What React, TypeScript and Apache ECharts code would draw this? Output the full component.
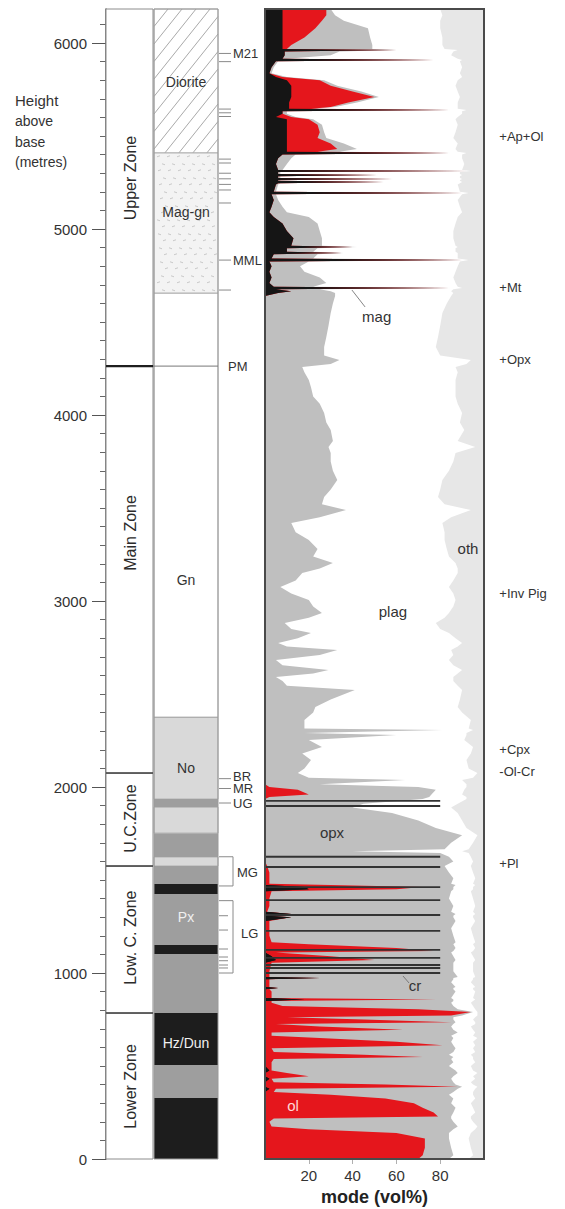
import React, { useEffect, useRef } from "react";
import * as echarts from "echarts";

const FONT = "'Liberation Sans', Arial, Helvetica, sans-serif";
const TOP = 6183;

// ---------- axes ----------
const heightTicks = [0, 1000, 2000, 3000, 4000, 5000, 6000];
const modeTicks = [20, 40, 60, 80];

// ---------- stratigraphic zones ----------
const zoneNames = ["Lower Zone", "Low. C. Zone", "U.C.Zone", "Main Zone", "Upper Zone"];
const zoneBase = [0, 785, 1575, 2075, 4263];
const zoneTop = [785, 1575, 2075, 4263, TOP];
const zoneLabelAt = [390, 1190, 1830, 3366, 5274];

// ---------- lithology column ----------
const lithBase = [0, 328, 505, 785, 1102, 1150, 1425, 1478, 1575, 1624, 1752, 1892, 1935, 2376, 4656, 5410];
const lithTop = [328, 505, 785, 1102, 1150, 1425, 1478, 1575, 1624, 1752, 1892, 1935, 2376, 4656, 5410, TOP];
const lithKind = ["dark", "grey", "dark", "grey", "dark", "grey", "dark", "grey", "pale", "grey", "pale", "grey", "pale", "white", "stipple", "hatch"];
const lithNames = ["Hz/Dun", "Px", "No", "Gn", "Mag-gn", "Diorite"];
const lithNameAt = [624, 1301, 2102, 3113, 5091, 5790];

// ---------- marker horizons ----------
const markTicks = [5944, 5900, 5645, 5625, 5605, 5376, 5355, 5300, 5270, 5240, 5210, 5140, 4833, 4672, 2045, 1992, 1914];
const unitNames = ["M21", "MML", "PM", "BR", "MR", "UG"];
const unitAt = [5944, 4833, 4260, 2058, 1990, 1914];
const groupNames = ["MG", "LG"];
const groupBase = [1468, 1000];
const groupTop = [1625, 1389];
const groupNameAt = [1540, 1210];
const lgTicks = [1308, 1231, 1129, 1086, 1066, 1043, 1027];

// ---------- modal data (vol%), height in metres above base ----------
const heights = [
  0, 20, 60, 110, 140, 160, 175, 200, 218, 228,
  250, 275, 300, 325, 345, 360, 378, 388, 400, 412,
  432, 445, 462, 476, 500, 520, 538, 548, 560, 575,
  595, 612, 630, 650, 662, 680, 695, 712, 726, 735,
  750, 762, 772, 790, 805, 822, 840, 850, 858, 866,
  900, 913, 919, 925, 950, 967, 973, 979, 1010, 1055,
  1070, 1090, 1110, 1118, 1135, 1155, 1165, 1200, 1240, 1280,
  1300, 1308, 1317, 1330, 1360, 1400, 1440, 1450, 1462, 1473,
  1480, 1510, 1540, 1575, 1600, 1625, 1645, 1655, 1665, 1700,
  1740, 1780, 1820, 1860, 1890, 1910, 1935, 1946, 1960, 1985,
  2000, 2015, 2038, 2050, 2075, 2100, 2145, 2180, 2215, 2253,
  2280, 2290, 2306, 2314, 2360, 2400, 2430, 2470, 2522, 2545,
  2570, 2591, 2610, 2629, 2655, 2683, 2710, 2737, 2755, 2774,
  2800, 2828, 2850, 2882, 2910, 2935, 2970, 3005, 3040, 3075,
  3110, 3151, 3175, 3204, 3240, 3280, 3328, 3370, 3419, 3450,
  3489, 3520, 3559, 3600, 3651, 3700, 3750, 3796, 3828, 3860,
  3919, 3960, 4011, 4060, 4100, 4150, 4188, 4230, 4258, 4275,
  4296, 4320, 4366, 4420, 4480, 4548, 4600, 4640,
  4656, 4665, 4676, 4683, 4689, 4710, 4740, 4770, 4800, 4826,
  4833, 4841, 4864, 4871, 4878, 4896, 4903, 4910, 4950, 4990,
  5030, 5065, 5090, 5120, 5156, 5187, 5194, 5201, 5240, 5246,
  5253, 5259, 5263, 5269, 5275, 5284, 5290, 5296, 5306, 5312,
  5318, 5350, 5380, 5401, 5409, 5416, 5430, 5460, 5490, 5520,
  5560, 5590, 5602, 5620, 5633, 5640, 5647, 5656, 5680, 5710,
  5740, 5770, 5800, 5817, 5838, 5870, 5902, 5909, 5916, 5935,
  5955, 5962, 5968, 5990, 6030, 6080, 6120, 6150, 6183,
];
const chromite = [
  0, 0, 0, 0, 0, 0, 0, 0, 0, 0,
  0, 0, 0, 0, 0, 0, 2, 0, 0, 0,
  2, 0, 0, 2, 0, 0, 0, 0, 0, 0,
  0, 0, 0, 0, 0, 0, 0, 0, 0, 0,
  0, 0, 0, 0, 0, 0, 0, 0, 18, 0,
  0, 0, 6, 0, 0, 0, 25, 0, 0, 0,
  5, 3, 0, 0, 0, 0, 0, 0, 0, 0,
  12, 0, 12, 0, 0, 0, 0, 20, 18, 0,
  0, 0, 0, 0, 0, 0, 0, 0, 0, 0,
  0, 0, 0, 0, 0, 0, 0, 0, 0, 0,
  0, 0, 0, 0, 0, 0, 0, 0, 0, 0,
  0, 0, 0, 0, 0, 0, 0, 0, 0, 0,
  0, 0, 0, 0, 0, 0, 0, 0, 0, 0,
  0, 0, 0, 0, 0, 0, 0, 0, 0, 0,
  0, 0, 0, 0, 0, 0, 0, 0, 0, 0,
  0, 0, 0, 0, 0, 0, 0, 0, 0, 0,
  0, 0, 0, 0, 0, 0, 0, 0, 0, 0,
  0, 0, 0, 0, 0, 0, 0, 0,
  0, 0, 0, 0, 0, 0, 0, 0, 0, 0,
  0, 0, 0, 0, 0, 0, 0, 0, 0, 0,
  0, 0, 0, 0, 0, 0, 0, 0, 0, 0,
  0, 0, 0, 0, 0, 0, 0, 0, 0, 0,
  0, 0, 0, 0, 0, 0, 0, 0, 0, 0,
  0, 0, 0, 0, 0, 0, 0, 0, 0, 0,
  0, 0, 0, 0, 0, 0, 0, 0, 0, 0,
  0, 0, 0, 0, 0, 0, 0, 0, 0,
];
const magnetite = [
  0, 0, 0, 0, 0, 0, 0, 0, 0, 0,
  0, 0, 0, 0, 0, 0, 0, 0, 0, 0,
  0, 0, 0, 0, 0, 0, 0, 0, 0, 0,
  0, 0, 0, 0, 0, 0, 0, 0, 0, 0,
  0, 0, 0, 0, 0, 0, 0, 0, 0, 0,
  0, 0, 0, 0, 0, 0, 0, 0, 0, 0,
  0, 0, 0, 0, 0, 0, 0, 0, 0, 0,
  0, 0, 0, 0, 0, 0, 0, 0, 0, 0,
  0, 0, 0, 0, 0, 0, 0, 0, 0, 0,
  0, 0, 0, 0, 0, 0, 0, 0, 0, 0,
  0, 0, 0, 0, 0, 0, 0, 0, 0, 0,
  0, 0, 0, 0, 0, 0, 0, 0, 0, 0,
  0, 0, 0, 0, 0, 0, 0, 0, 0, 0,
  0, 0, 0, 0, 0, 0, 0, 0, 0, 0,
  0, 0, 0, 0, 0, 0, 0, 0, 0, 0,
  0, 0, 0, 0, 0, 0, 0, 0, 0, 0,
  0, 0, 0, 0, 0, 0, 0, 0, 0, 0,
  0, 0, 0, 0, 0, 0, 0, 0,
  6, 12, 5, 84, 4, 2, 3, 2, 3, 2,
  90, 3, 4, 35, 10, 10, 40, 12, 13, 10,
  8, 4, 2, 3, 4, 3, 90, 4, 5, 6,
  54, 6, 6, 58, 6, 6, 51, 6, 6, 92,
  6, 5, 6, 8, 84, 10, 10, 10, 10, 10,
  10, 10, 5, 8, 8, 84, 11, 11, 11, 12,
  12, 12, 10, 5, 2, 3, 5, 77, 8, 9,
  9, 60, 8, 8, 8, 8, 8, 8, 8,
];
const olivine = [
  70, 72, 73, 73, 60, 20, 3, 2, 4, 79,
  77, 72, 68, 55, 30, 4, 3, 88, 55, 4,
  1, 20, 10, 1, 3, 3, 4, 72, 45, 4,
  3, 81, 60, 25, 3, 3, 63, 25, 5, 85,
  45, 10, 85, 94, 70, 8, 3, 3, 60, 3,
  3, 2, 0, 2, 2, 2, 0, 2, 2, 3,
  45, 27, 5, 77, 60, 20, 3, 2, 2, 2,
  0, 1, 0, 1, 2, 2, 3, 40, 54, 30,
  2, 2, 2, 1, 0, 0, 0, 0, 0, 0,
  0, 0, 0, 0, 0, 0, 0, 2, 20, 15,
  2, 0, 0, 0, 0, 0, 0, 0, 0, 0,
  0, 0, 0, 0, 0, 0, 0, 0, 0, 0,
  0, 0, 0, 0, 0, 0, 0, 0, 0, 0,
  0, 0, 0, 0, 0, 0, 0, 0, 0, 0,
  0, 0, 0, 0, 0, 0, 0, 0, 0, 0,
  0, 0, 0, 0, 0, 0, 0, 0, 0, 0,
  0, 0, 0, 0, 0, 0, 0, 0, 0, 0,
  0, 0, 0, 0, 0, 0, 0, 0,
  0, 0, 0, 0, 0, 0, 0, 0, 0, 0,
  0, 0, 0, 0, 0, 0, 0, 0, 0, 0,
  0, 0, 0, 0, 0, 0, 0, 0, 0, 0,
  0, 0, 0, 0, 0, 0, 0, 0, 0, 0,
  0, 0, 0, 0, 0, 14, 23, 20, 14, 15,
  14, 10, 7, 0, 0, 0, 10, 19, 27, 38,
  28, 18, 15, 3, 0, 0, 0, 0, 0, 0,
  0, 0, 2, 4, 10, 15, 18, 20, 20,
];
const pyroxene = [
  14, 14, 12, 11, 24, 66, 85, 84, 81, 6,
  9, 15, 17, 31, 54, 82, 83, 2, 32, 82,
  82, 66, 78, 84, 81, 83, 81, 14, 39, 82,
  84, 5, 25, 61, 82, 85, 23, 60, 81, 2,
  41, 76, 5, 1, 18, 78, 82, 83, 8, 82,
  84, 84, 80, 85, 83, 84, 61, 86, 84, 83,
  37, 56, 80, 9, 27, 66, 84, 84, 83, 85,
  74, 85, 75, 84, 84, 82, 82, 26, 14, 57,
  83, 84, 82, 81, 86, 84, 80, 40, 82, 85,
  90, 78, 70, 58, 40, 45, 72, 73, 56, 63,
  68, 25, 64, 20, 15, 18, 21, 17, 26, 20,
  60, 18, 81, 18, 18, 22, 23, 30, 41, 10,
  8, 5, 22, 29, 8, 5, 25, 33, 10, 6,
  15, 21, 12, 9, 20, 26, 22, 20, 12, 7,
  14, 17, 25, 31, 22, 24, 20, 14, 12, 25,
  37, 26, 27, 30, 33, 31, 30, 30, 29, 31,
  30, 28, 27, 25, 22, 21, 20, 18, 17, 30,
  34, 27, 27, 28, 29, 30, 31, 32,
  26, 18, 20, 1, 18, 26, 22, 16, 13, 18,
  1, 19, 20, 1, 12, 14, 2, 14, 13, 15,
  16, 16, 8, 5, 2, 2, 0, 1, 1, 1,
  1, 1, 1, 1, 1, 1, 1, 1, 1, 0,
  2, 5, 6, 6, 1, 10, 9, 6, 4, 2,
  2, 2, 2, 2, 2, 1, 2, 2, 4, 2,
  4, 3, 2, 2, 1, 1, 1, 0, 2, 21,
  25, 0, 39, 37, 30, 24, 10, 4, 2,
];
const plagioclase = [
  9, 9, 9, 9, 10, 10, 9, 9, 9, 9,
  10, 8, 9, 10, 11, 9, 8, 7, 8, 8,
  11, 9, 9, 8, 10, 10, 10, 9, 10, 10,
  8, 10, 10, 11, 10, 8, 9, 9, 10, 9,
  9, 10, 7, 2, 8, 9, 9, 9, 10, 10,
  9, 9, 9, 9, 9, 9, 9, 8, 9, 9,
  9, 9, 9, 9, 9, 9, 9, 9, 9, 9,
  9, 9, 9, 10, 10, 11, 9, 9, 9, 9,
  10, 10, 11, 12, 9, 10, 13, 50, 11, 10,
  7, 14, 20, 30, 45, 43, 20, 17, 14, 13,
  22, 67, 26, 75, 82, 75, 71, 77, 69, 71,
  32, 74, 14, 75, 76, 68, 65, 59, 49, 78,
  78, 81, 66, 61, 78, 79, 61, 52, 78, 84,
  72, 63, 68, 69, 62, 58, 64, 67, 74, 77,
  72, 71, 63, 56, 62, 59, 62, 68, 69, 60,
  57, 56, 52, 50, 48, 53, 56, 57, 67, 57,
  61, 61, 63, 63, 65, 66, 67, 70, 70, 62,
  60, 53, 51, 51, 51, 51, 52, 53,
  54, 55, 61, 5, 66, 59, 61, 69, 72, 69,
  2, 66, 64, 52, 65, 63, 46, 61, 60, 61,
  63, 68, 80, 81, 82, 85, 3, 84, 82, 82,
  35, 82, 82, 31, 82, 82, 38, 82, 82, 2,
  82, 81, 78, 76, 7, 54, 45, 52, 58, 60,
  62, 65, 74, 80, 80, 7, 65, 56, 46, 37,
  44, 54, 61, 80, 86, 86, 83, 13, 78, 55,
  52, 28, 33, 32, 33, 33, 44, 49, 50,
];
const others = [
  7, 5, 6, 7, 6, 4, 3, 5, 6, 6,
  4, 5, 6, 4, 5, 5, 4, 3, 5, 6,
  4, 5, 3, 5, 6, 4, 5, 5, 6, 4,
  5, 4, 5, 3, 5, 4, 5, 6, 4, 4,
  5, 4, 3, 3, 4, 5, 6, 5, 4, 5,
  4, 5, 5, 4, 6, 5, 5, 4, 5, 5,
  4, 5, 6, 5, 4, 5, 4, 5, 6, 4,
  5, 5, 4, 5, 4, 5, 6, 5, 5, 4,
  5, 4, 5, 6, 5, 6, 7, 10, 7, 5,
  3, 8, 10, 12, 15, 12, 8, 8, 10, 9,
  8, 8, 10, 5, 3, 7, 8, 6, 5, 9,
  8, 8, 5, 7, 6, 10, 12, 11, 10, 12,
  14, 14, 12, 10, 14, 16, 14, 15, 12, 10,
  13, 16, 20, 22, 18, 16, 14, 13, 14, 16,
  14, 12, 12, 13, 16, 17, 18, 18, 19, 15,
  6, 18, 21, 20, 19, 16, 14, 13, 4, 12,
  9, 11, 10, 12, 13, 13, 13, 12, 13, 8,
  6, 20, 22, 21, 20, 19, 17, 15,
  14, 15, 14, 10, 12, 13, 14, 13, 12, 11,
  7, 12, 12, 12, 13, 13, 12, 13, 14, 14,
  13, 12, 10, 11, 12, 10, 7, 11, 12, 11,
  10, 11, 11, 10, 11, 11, 10, 11, 11, 6,
  10, 9, 10, 10, 8, 12, 13, 12, 14, 13,
  12, 13, 12, 10, 10, 8, 12, 12, 12, 11,
  12, 13, 12, 10, 11, 10, 11, 10, 12, 15,
  14, 12, 18, 19, 19, 20, 20, 19, 20,
];

// chromitite seams drawn as lines
const seamHeights = [1000, 1027, 1043, 1081, 1124, 1226, 1312, 1392, 1462, 1570, 1625, 1898, 1926];
const seamExtent = [80, 80, 80, 80, 80, 80, 80, 80, 80, 80, 80, 80, 80];

// in-plot labels
const phaseNames = ["mag", "plag", "oth", "opx", "cr", "ol"];
const phaseX = [51, 58.4, 92.7, 30.6, 68.5, 12.8];
const phaseAt = [4532, 2941, 3285, 1753, 935, 290];
const leaderFromX = [39.7, 63];
const leaderFromH = [4672, 984];
const leaderToX = [45.7, 65.8];
const leaderToH = [4581, 946];

// cumulus arrivals (right side)
const arrivalNames = ["+Ap+Ol", "+Mt", "+Opx", "+Inv Pig", "+Cpx", "-Ol-Cr", "+Pl"];
const arrivalAt = [5495, 4683, 4301, 3043, 2199, 2081, 1591];

const layers = [chromite, magnetite, olivine, pyroxene, plagioclase, others];
const layerColors = ["#151515", "#151515", "#e5161c", "#bfbfbf", "#ffffff", "#e7e7e7"];
const lithColors: Record<string, string> = {
  dark: "#1d1d1d", grey: "#9e9e9e", pale: "#d9d9d9", white: "#ffffff", stipple: "#f3f3f3", hatch: "#ffffff",
};

export default function App() {
  const ref = useRef<HTMLDivElement>(null);

  useEffect(() => {
    if (!ref.current) return;
    const chart = echarts.init(ref.current, null, { renderer: "svg" });

    const cumulative = layers.map((_, k) =>
      heights.map((_, i) => {
        let s = 0;
        for (let j = 0; j <= k; j++) s += layers[j][i];
        return s;
      })
    );

    const minorTicks: number[] = [];
    for (let v = 100; v <= 6100; v += 100) if (v % 1000 !== 0) minorTicks.push(v);

    const leftSeries = (renderItem: any, n: number): any => ({
      type: "custom", xAxisIndex: 0, yAxisIndex: 0, clip: false, silent: true,
      data: Array.from({ length: n }, (_, i) => [0, i]),
      renderItem,
    });
    const rightSeries = (renderItem: any, n: number): any => ({
      type: "custom", xAxisIndex: 1, yAxisIndex: 2, clip: false, silent: true,
      data: Array.from({ length: n }, (_, i) => [0, i]),
      renderItem,
    });

    // zones
    const zoneRender = (p: any, api: any) => {
      const i = p.dataIndex;
      const [x0, yb] = api.coord([0, zoneBase[i]]);
      const [x1, yt] = api.coord([47, zoneTop[i]]);
      const [, yl] = api.coord([0, zoneLabelAt[i]]);
      return {
        type: "group",
        children: [
          { type: "rect", shape: { x: x0, y: yt, width: x1 - x0, height: yb - yt }, style: { fill: "#fff", stroke: "#8c8c8c", lineWidth: 1 } },
          {
            type: "text", x: (x0 + x1) / 2 + 1, y: yl, rotation: Math.PI / 2,
            style: { text: zoneNames[i], fontSize: 16, fontFamily: FONT, fill: "#2b2b2b", align: "center", verticalAlign: "middle" },
          },
        ],
      };
    };
    const zoneLineRender = (p: any, api: any) => {
      const i = p.dataIndex + 1;
      const [x0, y] = api.coord([0, zoneBase[i]]);
      const [x1] = api.coord([47, zoneBase[i]]);
      const isPM = i === 4;
      const children: any[] = [
        { type: "line", shape: { x1: x0, y1: y, x2: x1, y2: y }, style: { stroke: isPM ? "#1e1e1e" : "#444", lineWidth: isPM ? 2.2 : 1.5 } },
      ];
      if (isPM) {
        const [x2] = api.coord([112, zoneBase[i]]);
        children.push({ type: "line", shape: { x1: x1, y1: y, x2: x2, y2: y }, style: { stroke: "#777", lineWidth: 1 } });
      }
      return { type: "group", children };
    };

    // lithology
    const hatch = (x0: number, x1: number, yTop: number, yBot: number) => {
      const out: any[] = [];
      const H = yBot - yTop;
      const dx = H / 1.25;
      for (let c = x0 - dx; c < x1; c += 14) {
        const t0 = Math.max(0, (x0 - c) / dx);
        const t1 = Math.min(1, (x1 - c) / dx);
        if (t1 <= t0) continue;
        out.push({
          type: "line",
          shape: { x1: c + t0 * dx, y1: yBot - t0 * H, x2: c + t1 * dx, y2: yBot - t1 * H },
          style: { stroke: "#a9a9a9", lineWidth: 1 },
        });
      }
      return out;
    };
    const stipple = (x0: number, x1: number, yTop: number, yBot: number) => {
      const out: any[] = [];
      let row = 0;
      for (let y = yTop + 4; y < yBot - 2; y += 7) {
        for (let x = x0 + 3 + ((row * 5) % 9); x < x1 - 3; x += 10) {
          out.push({ type: "line", shape: { x1: x, y1: y, x2: x + 3, y2: y + (row % 2 ? 1 : -1) }, style: { stroke: "#c9c9c9", lineWidth: 1 } });
        }
        row++;
      }
      return out;
    };
    const lithRender = (p: any, api: any) => {
      const i = p.dataIndex;
      const [x0, yb] = api.coord([48, lithBase[i]]);
      const [x1, yt] = api.coord([112, lithTop[i]]);
      const kind = lithKind[i];
      const children: any[] = [
        { type: "rect", shape: { x: x0, y: yt, width: x1 - x0, height: yb - yt }, style: { fill: lithColors[kind], stroke: kind === "dark" || kind === "grey" ? null : "#a0a0a0", lineWidth: 0.8 } },
      ];
      if (kind === "hatch") children.push(...hatch(x0, x1, yt, yb));
      if (kind === "stipple") children.push(...stipple(x0, x1, yt, yb));
      return { type: "group", children };
    };
    const lithOutline = (_p: any, api: any) => {
      const [x0, yb] = api.coord([48, 0]);
      const [x1, yt] = api.coord([112, TOP]);
      return { type: "rect", shape: { x: x0, y: yt, width: x1 - x0, height: yb - yt }, style: { fill: "none", stroke: "#9a9a9a", lineWidth: 1 } };
    };
    const lithLabelRender = (p: any, api: any) => {
      const i = p.dataIndex;
      const [x, y] = api.coord([80, lithNameAt[i]]);
      const light = lithNames[i] === "Hz/Dun" || lithNames[i] === "Px";
      return {
        type: "text", x, y,
        style: { text: lithNames[i], fontSize: 14, fontFamily: FONT, fill: light ? "#f0f0f0" : "#333", align: "center", verticalAlign: "middle" },
      };
    };

    // marker horizons
    const markTickRender = (p: any, api: any) => {
      const [x0, y] = api.coord([112, markTicks[p.dataIndex]]);
      const [x1] = api.coord([125, markTicks[p.dataIndex]]);
      return { type: "line", shape: { x1: x0 + 1, y1: y, x2: x1, y2: y }, style: { stroke: "#8a8a8a", lineWidth: 1 } };
    };
    const lgTickRender = (p: any, api: any) => {
      const [x0, y] = api.coord([112, lgTicks[p.dataIndex]]);
      const [x1] = api.coord([122, lgTicks[p.dataIndex]]);
      return { type: "line", shape: { x1: x0 + 1, y1: y, x2: x1, y2: y }, style: { stroke: "#8a8a8a", lineWidth: 1 } };
    };
    const unitRender = (p: any, api: any) => {
      const i = p.dataIndex;
      const [x, y] = api.coord([unitNames[i] === "PM" ? 122 : 127, unitAt[i]]);
      return { type: "text", x, y, style: { text: unitNames[i], fontSize: 13, fontFamily: FONT, fill: "#333", align: "left", verticalAlign: "middle" } };
    };
    const groupRender = (p: any, api: any) => {
      const i = p.dataIndex;
      const [x0, yb] = api.coord([112, groupBase[i]]);
      const [x1, yt] = api.coord([127, groupTop[i]]);
      const [, yl] = api.coord([0, groupNameAt[i]]);
      const st = { stroke: "#8a8a8a", lineWidth: 1 };
      return {
        type: "group",
        children: [
          { type: "line", shape: { x1: x0 + 1, y1: yt, x2: x1, y2: yt }, style: st },
          { type: "line", shape: { x1: x0 + 1, y1: yb, x2: x1, y2: yb }, style: st },
          { type: "line", shape: { x1: x1, y1: yt, x2: x1, y2: yb }, style: st },
          { type: "text", x: x1 + (i === 0 ? 4 : 8), y: yl, style: { text: groupNames[i], fontSize: 13, fontFamily: FONT, fill: "#333", align: "left", verticalAlign: "middle" } },
        ],
      };
    };

    // modal layers (drawn widest first, each from 0 to its cumulative boundary)
    const layerSeries: any[] = [];
    for (let k = layers.length - 1; k >= 0; k--) {
      const cum = cumulative[k];
      const color = layerColors[k];
      layerSeries.push(
        rightSeries((_p: any, api: any) => {
          const pts: number[][] = [api.coord([0, heights[0]])];
          for (let i = 0; i < heights.length; i++) pts.push(api.coord([cum[i], heights[i]]));
          pts.push(api.coord([0, heights[heights.length - 1]]));
          return { type: "polygon", shape: { points: pts }, style: { fill: color } };
        }, 1)
      );
    }
    const seamRender = (p: any, api: any) => {
      const i = p.dataIndex;
      const a = api.coord([0, seamHeights[i]]);
      const b = api.coord([seamExtent[i], seamHeights[i]]);
      return { type: "line", shape: { x1: a[0], y1: a[1], x2: b[0], y2: b[1] }, style: { stroke: "#333", lineWidth: 1.8 } };
    };
    const phaseRender = (p: any, api: any) => {
      const i = p.dataIndex;
      const [x, y] = api.coord([phaseX[i], phaseAt[i]]);
      return {
        type: "text", x, y,
        style: { text: phaseNames[i], fontSize: 15, fontFamily: FONT, fill: phaseNames[i] === "ol" ? "#ffd6d6" : "#333", align: "center", verticalAlign: "middle" },
      };
    };
    const leaderRender = (p: any, api: any) => {
      const i = p.dataIndex;
      const a = api.coord([leaderFromX[i], leaderFromH[i]]);
      const b = api.coord([leaderToX[i], leaderToH[i]]);
      return { type: "line", shape: { x1: a[0], y1: a[1], x2: b[0], y2: b[1] }, style: { stroke: "#666", lineWidth: 0.8 } };
    };
    const arrivalRender = (p: any, api: any) => {
      const i = p.dataIndex;
      const [x, y] = api.coord([107, arrivalAt[i]]);
      return { type: "text", x, y, style: { text: arrivalNames[i], fontSize: 13, fontFamily: FONT, fill: "#333", align: "left", verticalAlign: "middle" } };
    };

    const option: any = {
      animation: false,
      backgroundColor: "#fff",
      textStyle: { fontFamily: FONT },
      grid: [
        { left: 106, top: 9, width: 112, height: 1150, outerBoundsMode: "none" },
        { left: 265, top: 9, width: 219, height: 1150, outerBoundsMode: "none" },
      ],
      xAxis: [
        { gridIndex: 0, type: "value", min: 0, max: 112, show: false },
        {
          gridIndex: 1, type: "value", min: 0, max: 100, interval: 20,
          axisLine: { show: false },
          axisTick: { show: true, customValues: modeTicks, length: 5, lineStyle: { color: "#b0b0b0" } },
          axisLabel: { customValues: modeTicks, fontSize: 15, color: "#333", margin: 9, fontFamily: FONT },
          splitLine: { show: false },
          name: "mode (vol%)", nameLocation: "middle", nameGap: 27,
          nameTextStyle: { fontSize: 18, fontWeight: "bold", color: "#222", fontFamily: FONT },
        },
      ],
      yAxis: [
        {
          gridIndex: 0, type: "value", min: 0, max: TOP, interval: 1000, position: "left",
          axisLine: { show: true, lineStyle: { color: "#555", width: 1.5 } },
          axisTick: { show: true, customValues: heightTicks, length: 14, lineStyle: { color: "#555", width: 1 } },
          axisLabel: { customValues: heightTicks, fontSize: 15, color: "#333", margin: 19, fontFamily: FONT, formatter: (v: number) => String(v) },
          splitLine: { show: false },
        },
        {
          gridIndex: 0, type: "value", min: 0, max: TOP, interval: 100, position: "left",
          axisLine: { show: false },
          axisTick: { show: true, customValues: minorTicks, length: 6, lineStyle: { color: "#666", width: 1 } },
          axisLabel: { show: false },
          splitLine: { show: false },
        },
        { gridIndex: 1, type: "value", min: 0, max: TOP, show: false },
      ],
      graphic: [
        { type: "text", x: 15, y: 100, style: { text: "Height", fontSize: 15, fontFamily: FONT, fill: "#333", verticalAlign: "middle" } },
        { type: "text", x: 15, y: 121, style: { text: "above", fontSize: 14, fontFamily: FONT, fill: "#333", verticalAlign: "middle" } },
        { type: "text", x: 15, y: 142, style: { text: "base", fontSize: 14, fontFamily: FONT, fill: "#333", verticalAlign: "middle" } },
        { type: "text", x: 15, y: 162, style: { text: "(metres)", fontSize: 14, fontFamily: FONT, fill: "#333", verticalAlign: "middle" } },
        { type: "rect", z: 100, shape: { x: 265, y: 9, width: 219, height: 1150 }, style: { fill: "none", stroke: "#4a4a4a", lineWidth: 2 } },
      ],
      series: [
        leftSeries(zoneRender, zoneNames.length),
        leftSeries(lithRender, lithBase.length),
        leftSeries(lithOutline, 1),
        leftSeries(zoneLineRender, zoneBase.length - 1),
        leftSeries(lithLabelRender, lithNames.length),
        leftSeries(markTickRender, markTicks.length),
        leftSeries(lgTickRender, lgTicks.length),
        leftSeries(unitRender, unitNames.length),
        leftSeries(groupRender, groupNames.length),
        ...layerSeries,
        rightSeries(seamRender, seamHeights.length),
        rightSeries(phaseRender, phaseNames.length),
        rightSeries(leaderRender, leaderFromX.length),
        rightSeries(arrivalRender, arrivalNames.length),
      ],
    };

    chart.setOption(option);
    return () => chart.dispose();
  }, []);

  return (
    <div
      ref={ref}
      style={{ position: "absolute", left: 0, top: 0, width: 565, height: 1209, background: "#fff" }}
    />
  );
}
